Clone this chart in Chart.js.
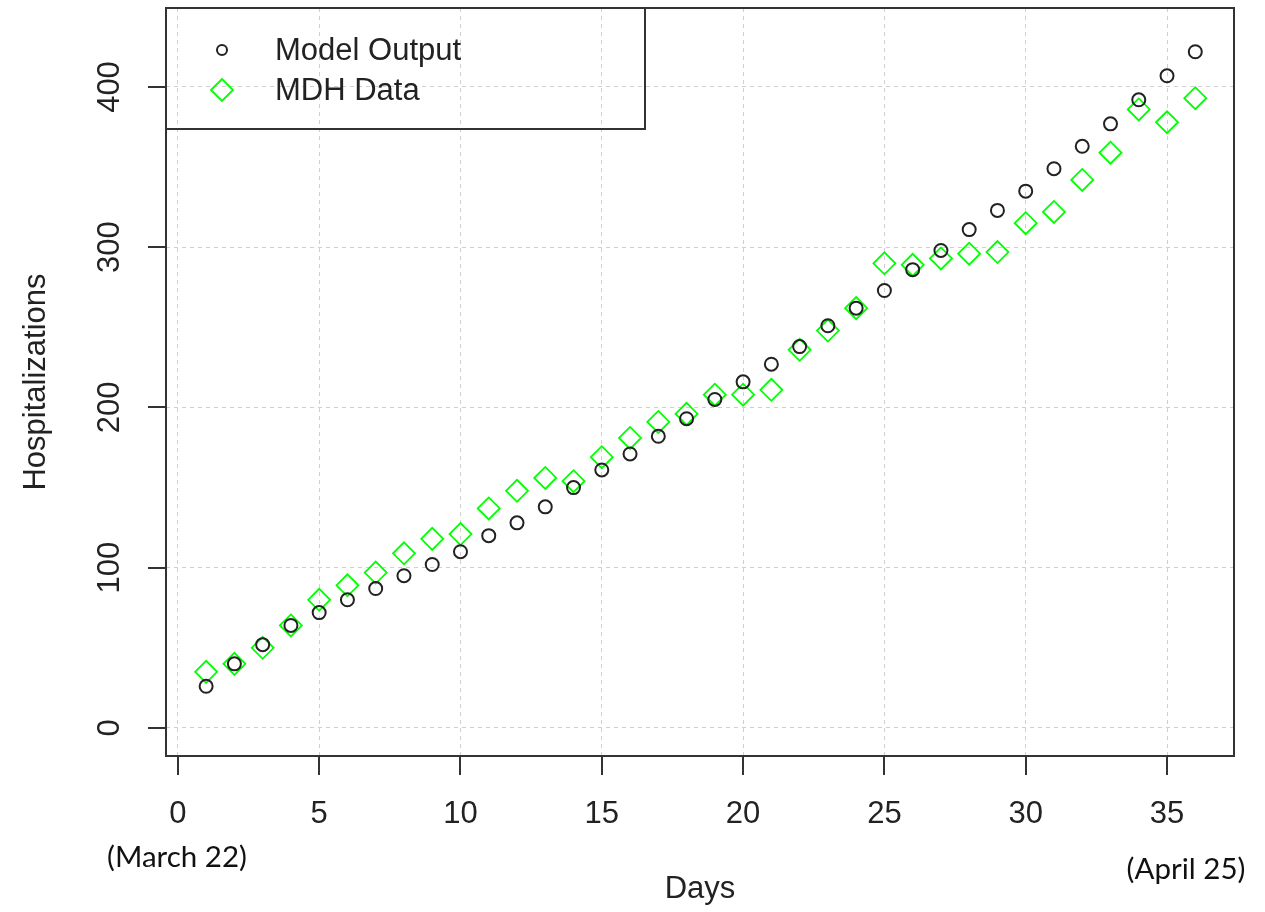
<!DOCTYPE html>
<html>
<head>
<meta charset="utf-8">
<script src="https://cdn.jsdelivr.net/npm/chart.js@4/dist/chart.umd.min.js"></script>
<style>
  body { margin: 0; background: #fff; }
  #wrap { width: 1265px; height: 912px; position: relative; }
</style>
</head>
<body>
<div id="wrap"><canvas id="chart"></canvas></div>
<script>
// days since March 22
const days = [1, 2, 3, 4, 5, 6, 7, 8, 9, 10, 11, 12, 13, 14, 15, 16, 17, 18,
  19, 20, 21, 22, 23, 24, 25, 26, 27, 28, 29, 30, 31, 32, 33, 34, 35, 36];
const modelOutput = [26, 40, 52, 64, 72, 80, 87, 95, 102, 110, 120, 128, 138, 150, 161, 171, 182, 193,
  205, 216, 227, 238, 251, 262, 273, 286, 298, 311, 323, 335, 349, 363, 377, 392, 407, 422];
const mdhData = [35, 40, 50, 64, 80, 89, 97, 109, 118, 121, 137, 148, 156, 154, 169, 181, 191, 196,
  208, 208, 211, 236, 248, 262, 290, 289, 293, 296, 297, 315, 322, 342, 359, 386, 378, 393];
const xTicks = [0, 5, 10, 15, 20, 25, 30, 35];
const yTicks = [0, 100, 200, 300, 400];
const seriesNames = ["Model Output", "MDH Data"];

const FONT = "31px 'Liberation Sans', Arial, sans-serif";

function pts(ys) {
  return days.map((d, i) => ({ x: d, y: ys[i] }));
}

const rDecor = {
  id: "rDecor",
  afterDraw(chart) {
    const ctx = chart.ctx;
    const a = chart.chartArea;
    const xs = chart.scales.x, ys = chart.scales.y;
    ctx.save();
    // box
    ctx.strokeStyle = "#333";
    ctx.lineWidth = 2;
    ctx.strokeRect(a.left, a.top, a.right - a.left, a.bottom - a.top);
    // ticks
    ctx.beginPath();
    xTicks.forEach(v => {
      const px = Math.round(xs.getPixelForValue(v));
      ctx.moveTo(px, a.bottom);
      ctx.lineTo(px, a.bottom + 19);
    });
    yTicks.forEach(v => {
      const py = Math.round(ys.getPixelForValue(v));
      ctx.moveTo(a.left, py);
      ctx.lineTo(a.left - 18, py);
    });
    ctx.stroke();
    // tick labels
    ctx.fillStyle = "#222";
    ctx.font = FONT;
    ctx.textAlign = "center";
    ctx.textBaseline = "middle";
    xTicks.forEach(v => {
      ctx.fillText(String(v), xs.getPixelForValue(v), 814);
    });
    yTicks.forEach(v => {
      ctx.save();
      ctx.translate(110, ys.getPixelForValue(v));
      ctx.rotate(-Math.PI / 2);
      ctx.fillText(String(v), 0, 0);
      ctx.restore();
    });
    // axis titles
    ctx.fillText("Days", 700, 889);
    ctx.save();
    ctx.translate(36, 382);
    ctx.rotate(-Math.PI / 2);
    ctx.fillText("Hospitalizations", 0, 0);
    ctx.restore();
    // date notes
    ctx.font = "29.5px Lato, 'Open Sans', sans-serif";
    ctx.fillStyle = "#111";
    ctx.fillText("(March 22)", 177, 857);
    ctx.fillText("(April 25)", 1186, 869);
    // legend
    ctx.strokeStyle = "#333";
    ctx.lineWidth = 2;
    ctx.strokeRect(a.left, a.top, 645 - a.left, 129 - a.top);
    const rows = [50, 90];
    chart.data.datasets.forEach((ds, i) => {
      ctx.strokeStyle = ds.borderColor;
      ctx.fillStyle = "rgba(0,0,0,0)";
      ctx.lineWidth = ds.borderWidth;
      Chart.helpers.drawPoint(ctx, {
        pointStyle: ds.pointStyle,
        radius: i === 0 ? 5 : 11,
        rotation: 0,
        borderWidth: ds.borderWidth
      }, 222, rows[i]);
      ctx.fillStyle = "#222";
      ctx.font = FONT;
      ctx.textAlign = "left";
      ctx.fillText(ds.label, 275, rows[i] + 1);
    });
    ctx.restore();
  }
};

new Chart(document.getElementById("chart"), {
  type: "scatter",
  data: {
    datasets: [
      {
        label: seriesNames[0],
        data: pts(modelOutput),
        pointStyle: "circle",
        pointRadius: 6.5,
        pointHoverRadius: 6.5,
        borderColor: "#222",
        backgroundColor: "rgba(0,0,0,0)",
        borderWidth: 2
      },
      {
        label: seriesNames[1],
        data: pts(mdhData),
        pointStyle: "rectRot",
        pointRadius: 11,
        pointHoverRadius: 11,
        borderColor: "#00ff00",
        backgroundColor: "rgba(0,0,0,0)",
        borderWidth: 1.8
      }
    ]
  },
  options: {
    responsive: true,
    maintainAspectRatio: false,
    animation: false,
    events: [],
    layout: { autoPadding: false, padding: { left: 166, right: 31, top: 8, bottom: 156 } },
    plugins: { legend: { display: false }, tooltip: { enabled: false } },
    scales: {
      x: {
        type: "linear",
        min: -0.42,
        max: 37.37,
        afterBuildTicks: s => { s.ticks = xTicks.map(v => ({ value: v })); },
        ticks: { display: false },
        grid: { color: "#cfcfcf", lineWidth: 1, drawTicks: false },
        border: { display: false, dash: [4, 4] }
      },
      y: {
        type: "linear",
        min: -17.5,
        max: 449.3,
        afterBuildTicks: s => { s.ticks = yTicks.map(v => ({ value: v })); },
        ticks: { display: false },
        grid: { color: "#cfcfcf", lineWidth: 1, drawTicks: false },
        border: { display: false, dash: [4, 4] }
      }
    }
  },
  plugins: [rDecor]
});
</script>
</body>
</html>
